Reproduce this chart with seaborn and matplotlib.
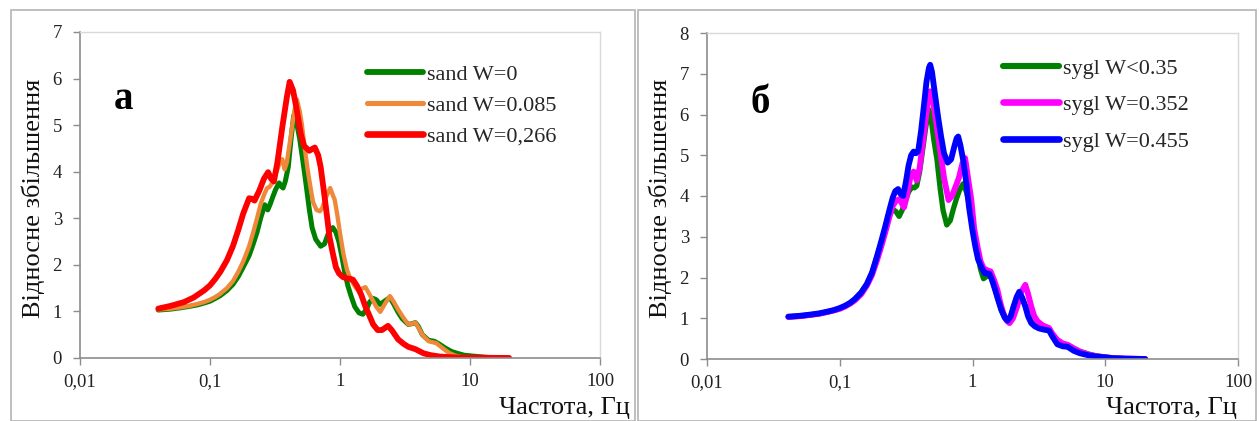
import matplotlib
matplotlib.use('Agg')
import matplotlib.pyplot as plt
from matplotlib.lines import Line2D
from matplotlib.patches import Rectangle
import seaborn as sns

sns.set_theme(style='white')
plt.rcParams['font.family'] = ['Liberation Serif', 'DejaVu Serif']

# -------------------------------
# дані
# -------------------------------
# панель а: пісок
f_sand0 = [0.04, 0.05, 0.06, 0.07, 0.08, 0.09, 0.1, 0.11, 0.12, 0.135, 0.15, 0.165, 0.18, 0.2,
           0.215, 0.23, 0.245, 0.264, 0.278, 0.29, 0.305, 0.32, 0.34, 0.355, 0.365, 0.38, 0.40,
           0.42, 0.44, 0.46, 0.49, 0.52, 0.55, 0.58, 0.61, 0.65, 0.71, 0.76, 0.82, 0.88, 0.93,
           0.98, 1.03, 1.09, 1.15, 1.22, 1.3, 1.4, 1.5, 1.6, 1.69, 1.8, 1.9, 2.04, 2.2, 2.42,
           2.6, 2.8, 3.0, 3.35, 3.6, 3.8, 4.0, 4.3, 4.8, 5.3, 5.8, 6.4, 7.2, 8.0, 9.0, 10.6,
           14.0, 20.0]
a_sand0 = [1.03, 1.05, 1.08, 1.11, 1.14, 1.18, 1.22, 1.28, 1.34, 1.45, 1.58, 1.75, 1.95, 2.2,
           2.45, 2.7, 3.0, 3.29, 3.18, 3.3, 3.47, 3.62, 3.76, 3.68, 3.65, 3.8, 4.1,
           4.7, 5.2, 5.1, 4.7, 4.2, 3.7, 3.2, 2.8, 2.55, 2.4, 2.45, 2.7, 2.8, 2.7,
           2.5, 2.2, 1.83, 1.55, 1.32, 1.1, 0.97, 0.94, 1.05, 1.2, 1.28, 1.25, 1.15, 1.22, 1.3,
           1.15, 0.98, 0.85, 0.72, 0.74, 0.76, 0.68, 0.5, 0.38, 0.36, 0.3, 0.22, 0.14, 0.1, 0.06,
           0.04, 0.01, 0.0]

f_sand085 = [0.04, 0.05, 0.06, 0.07, 0.08, 0.09, 0.1, 0.11, 0.12, 0.135, 0.15, 0.165, 0.18,
             0.2, 0.215, 0.23, 0.245, 0.26, 0.275, 0.286, 0.3, 0.32, 0.345, 0.36, 0.375, 0.39,
             0.42, 0.445, 0.466, 0.49, 0.51, 0.53, 0.56, 0.59, 0.62, 0.66, 0.7, 0.73, 0.78,
             0.84, 0.88, 0.91, 0.95, 1.0, 1.06, 1.13, 1.2, 1.26, 1.33, 1.4, 1.5, 1.57, 1.66,
             1.78, 1.9, 2.04, 2.2, 2.42, 2.6, 2.8, 3.05, 3.35, 3.6, 3.8, 4.0, 4.3, 4.8, 5.5,
             6.1, 6.9, 7.7, 8.6, 12.0, 20.0]
a_sand085 = [1.04, 1.06, 1.09, 1.12, 1.16, 1.2, 1.25, 1.31, 1.38, 1.5, 1.65, 1.85, 2.07,
             2.4, 2.7, 3.0, 3.3, 3.5, 3.65, 3.67, 3.75, 3.95, 4.2, 4.27, 4.05, 4.2,
             4.8, 5.3, 5.55, 5.3, 5.0, 4.6, 4.1, 3.7, 3.35, 3.18, 3.15, 3.22, 3.45,
             3.65, 3.5, 3.4, 3.1, 2.68, 2.25, 1.9, 1.7, 1.6, 1.5, 1.45, 1.5, 1.52, 1.4,
             1.25, 1.1, 0.99, 1.15, 1.33, 1.2, 1.04, 0.88, 0.72, 0.74, 0.76, 0.66, 0.5, 0.36, 0.32,
             0.22, 0.11, 0.05, 0.02, 0.005, 0.0]

f_sand266 = [0.04, 0.05, 0.063, 0.075, 0.09, 0.1, 0.11, 0.12, 0.135, 0.15, 0.165, 0.18, 0.2,
             0.21, 0.22, 0.24, 0.26, 0.28, 0.295, 0.31, 0.33, 0.36, 0.39, 0.41, 0.435, 0.46,
             0.5, 0.53, 0.58, 0.64, 0.68, 0.71, 0.75, 0.79, 0.83, 0.88, 0.93, 0.98, 1.05, 1.13,
             1.2, 1.26, 1.35, 1.46, 1.57, 1.69, 1.8, 1.95, 2.1, 2.34, 2.5, 2.8, 3.1, 3.35, 3.8,
             4.4, 5.0, 5.9, 8.0, 20.0]
a_sand266 = [1.06, 1.12, 1.2, 1.3, 1.45, 1.56, 1.7, 1.85, 2.1, 2.4, 2.75, 3.1, 3.43,
             3.42, 3.38, 3.6, 3.85, 3.99, 3.85, 3.79, 4.2, 4.96, 5.6, 5.93, 5.75, 5.4,
             4.8, 4.55, 4.45, 4.52, 4.35, 4.1, 3.6, 3.1, 2.6, 2.25, 1.95, 1.82, 1.74, 1.71,
             1.7, 1.68, 1.55, 1.35, 1.1, 0.9, 0.72, 0.6, 0.6, 0.69, 0.6, 0.4, 0.3, 0.24, 0.19,
             0.1, 0.06, 0.03, 0.01, 0.0]

# панель б: суглинок
f_sygl035 = [0.041, 0.05, 0.06, 0.07, 0.08, 0.09, 0.1, 0.11, 0.12, 0.13, 0.145, 0.16, 0.175,
             0.19, 0.205, 0.22, 0.235, 0.25, 0.265, 0.28, 0.295, 0.31, 0.33, 0.35, 0.365, 0.38,
             0.4, 0.42, 0.445, 0.47, 0.49, 0.51, 0.54, 0.57, 0.6, 0.64, 0.68, 0.72, 0.76, 0.8,
             0.85, 0.9, 0.98, 1.03, 1.09, 1.15, 1.21, 1.27, 1.32, 1.38, 1.45, 1.55, 1.65, 1.75,
             1.84, 1.94, 2.04, 2.15, 2.25, 2.37, 2.5, 2.62, 2.77, 2.95, 3.17, 3.45, 3.77, 4.0,
             4.36, 4.8, 5.2, 5.8, 6.45, 7.5, 8.5, 10.0, 11.4, 14.0, 20.0]
a_sygl035 = [1.03, 1.05, 1.08, 1.11, 1.15, 1.19, 1.24, 1.3, 1.38, 1.47, 1.63, 1.84, 2.12,
             2.5, 2.85, 3.2, 3.5, 3.68, 3.62, 3.5, 3.65, 3.85, 4.1, 4.22, 4.2, 4.25,
             4.6, 5.1, 5.7, 6.12, 5.85, 5.4, 4.89, 4.2, 3.65, 3.29, 3.4, 3.7, 3.95, 4.15,
             4.3, 4.1, 3.58, 3.0, 2.6, 2.2, 1.97, 2.02, 2.06, 2.0, 1.8, 1.5, 1.2, 1.0,
             0.95, 1.05, 1.29, 1.5, 1.62, 1.5, 1.3, 1.08, 0.93, 0.83, 0.78, 0.75, 0.74, 0.58,
             0.42, 0.37, 0.35, 0.26, 0.19, 0.12, 0.08, 0.05, 0.03, 0.01, 0.0]

f_sygl352 = [0.041, 0.05, 0.06, 0.07, 0.08, 0.09, 0.1, 0.11, 0.12, 0.13, 0.145, 0.16, 0.175,
             0.19, 0.205, 0.22, 0.235, 0.25, 0.265, 0.28, 0.29, 0.305, 0.32, 0.34, 0.36, 0.37,
             0.38, 0.4, 0.43, 0.46, 0.48, 0.5, 0.53, 0.57, 0.61, 0.66, 0.7, 0.75, 0.79, 0.84,
             0.88, 0.92, 0.98, 1.03, 1.09, 1.15, 1.21, 1.3, 1.37, 1.45, 1.54, 1.62, 1.71, 1.8,
             1.9, 2.02, 2.17, 2.33, 2.5, 2.62, 2.77, 2.92, 3.1, 3.4, 3.77, 4.0, 4.36, 4.8, 5.2,
             5.8, 6.45, 7.5, 8.5, 10.0, 11.4, 14.0, 20.0]
a_sygl352 = [1.03, 1.05, 1.08, 1.11, 1.15, 1.19, 1.23, 1.29, 1.36, 1.44, 1.59, 1.8, 2.06,
             2.4, 2.75, 3.1, 3.45, 3.75, 3.88, 3.92, 3.85, 3.72, 4.0, 4.45, 4.6, 4.5,
             4.38, 4.7, 5.5, 6.3, 6.57, 6.4, 5.85, 5.13, 4.45, 3.9, 4.0, 4.25, 4.45, 4.8,
             4.93, 4.5, 3.9, 3.2, 2.76, 2.4, 2.23, 2.17, 2.15, 1.95, 1.7, 1.38, 1.12, 0.95,
             0.88, 1.0, 1.29, 1.65, 1.82, 1.6, 1.29, 1.05, 0.92, 0.82, 0.76, 0.62, 0.47, 0.38, 0.35,
             0.26, 0.18, 0.11, 0.07, 0.04, 0.02, 0.01, 0.0]

f_sygl455 = [0.041, 0.05, 0.06, 0.07, 0.08, 0.09, 0.1, 0.11, 0.12, 0.13, 0.145, 0.16, 0.175,
             0.19, 0.205, 0.22, 0.235, 0.25, 0.262, 0.275, 0.287, 0.3, 0.315, 0.33, 0.345, 0.36,
             0.375, 0.39, 0.41, 0.43, 0.45, 0.47, 0.48, 0.495, 0.52, 0.55, 0.58, 0.61, 0.65,
             0.69, 0.73, 0.76, 0.78, 0.81, 0.85, 0.9, 0.94, 1.0, 1.05, 1.1, 1.16, 1.24, 1.3,
             1.34, 1.4, 1.48, 1.56, 1.65, 1.75, 1.84, 1.94, 2.04, 2.15, 2.25, 2.37, 2.5, 2.62,
             2.77, 2.95, 3.17, 3.45, 3.77, 4.0, 4.36, 4.8, 5.2, 5.8, 6.45, 7.5, 8.5, 10.0, 11.4,
             14.0, 20.0]
a_sygl455 = [1.04, 1.06, 1.09, 1.12, 1.16, 1.2, 1.25, 1.31, 1.38, 1.47, 1.63, 1.84, 2.12,
             2.5, 2.88, 3.25, 3.62, 3.95, 4.12, 4.17, 4.05, 4.0, 4.35, 4.75, 5.0, 5.09,
             5.05, 5.1, 5.6, 6.2, 6.8, 7.15, 7.22, 7.05, 6.53, 5.95, 5.46, 5.05, 4.82,
             4.9, 5.22, 5.42, 5.46, 5.25, 4.89, 4.3, 3.74, 3.15, 2.76, 2.45, 2.27, 2.1, 2.1,
             2.09, 1.95, 1.7, 1.45, 1.2, 1.02, 0.94, 1.05, 1.29, 1.52, 1.65, 1.5, 1.29, 1.05,
             0.88, 0.8, 0.75, 0.72, 0.7, 0.55, 0.36, 0.31, 0.3, 0.2, 0.14, 0.09, 0.06, 0.04, 0.02,
             0.01, 0.0]

x_ticks = [0.01, 0.1, 1, 10, 100]
x_ticklabels = ['0,01', '0,1', '1', '10', '100']

panel_a = [
    (f_sand0, a_sand0, 'sand W=0', '#008000', 3.6),
    (f_sand085, a_sand085, 'sand W=0.085', '#F0883A', 3.1),
    (f_sand266, a_sand266, 'sand W=0,266', '#FF0000', 4.2),
]
panel_b = [
    (f_sygl035, a_sygl035, 'sygl W<0.35', '#008000', 3.8),
    (f_sygl352, a_sygl352, 'sygl W=0.352', '#FF00FF', 4.2),
    (f_sygl455, a_sygl455, 'sygl W=0.455', '#0000FF', 4.2),
]

W, H = 1259, 421
fig = plt.figure(figsize=(W / 100, H / 100), dpi=100)

# рамки панелей
for x0, x1 in [(11, 635), (638, 1256)]:
    fig.patches.append(Rectangle((x0 / W, 0), (x1 - x0) / W, (H - 10) / H,
                                 transform=fig.transFigure, fill=False,
                                 edgecolor='#b4b4b4', linewidth=1.2))


def draw_panel(rect, series, ymax, letter, letter_xy, leg_xy, leg_spacing, ylab_x, xlab_x):
    ax = fig.add_axes(rect)
    for f, a, lab, col, lw in series:
        sns.lineplot(x=f, y=a, ax=ax, color=col, linewidth=lw, label=lab,
                     legend=False, solid_capstyle='round', solid_joinstyle='round')
    ax.set_xscale('log')
    ax.set_xlim(0.01, 100)
    ax.set_ylim(0, ymax)
    ax.set_xticks(x_ticks)
    ax.set_xticklabels(x_ticklabels)
    ax.minorticks_off()
    ax.set_yticks(range(0, ymax + 1))
    ax.tick_params(axis='both', which='major', direction='out', length=5, width=1,
                   color='#8c8c8c', labelsize=13.5, labelcolor='#222222', bottom=True, left=True)
    ax.tick_params(axis='y', pad=8)
    ax.tick_params(axis='x', pad=6)
    for s in ['left', 'bottom']:
        ax.spines[s].set_color('#8c8c8c')
        ax.spines[s].set_linewidth(1.2)
    for s in ['top', 'right']:
        ax.spines[s].set_color('#d9d9d9')
        ax.spines[s].set_linewidth(1.0)
    ax.set_xlabel('')
    ax.set_ylabel('')

    handles = [Line2D([], [], color=c, linewidth=lw + 0.6, solid_capstyle='round')
               for _, _, _, c, lw in series]
    labels = [lab for _, _, lab, _, _ in series]
    fig.legend(handles, labels, loc='upper left',
               bbox_to_anchor=(leg_xy[0] / W, 1 - leg_xy[1] / H),
               bbox_transform=fig.transFigure, frameon=False, fontsize=16,
               handlelength=2.5, handletextpad=0.2, labelspacing=leg_spacing,
               borderpad=0, borderaxespad=0)

    fig.text(letter_xy[0] / W, 1 - letter_xy[1] / H, letter, fontsize=28,
             fontweight='bold', ha='left', va='baseline', color='black')
    fig.text(ylab_x / W, 1 - 198 / H, 'Відносне збільшення', rotation=90,
             fontsize=19, ha='center', va='center', color='#111111')
    fig.text(xlab_x / W, 1 - 414 / H, 'Частота, Гц', fontsize=19,
             ha='right', va='baseline', color='#111111')
    return ax


draw_panel([80 / W, 63 / H, 520 / W, 326 / H], panel_a, 7, 'а', (114, 109),
           (367, 64), 0.47, 33, 630)
draw_panel([707 / W, 62 / H, 531 / W, 326 / H], panel_b, 8, 'б', (751, 113),
           (1003, 58), 0.72, 660, 1237)

fig.savefig('out.png', dpi=100)
